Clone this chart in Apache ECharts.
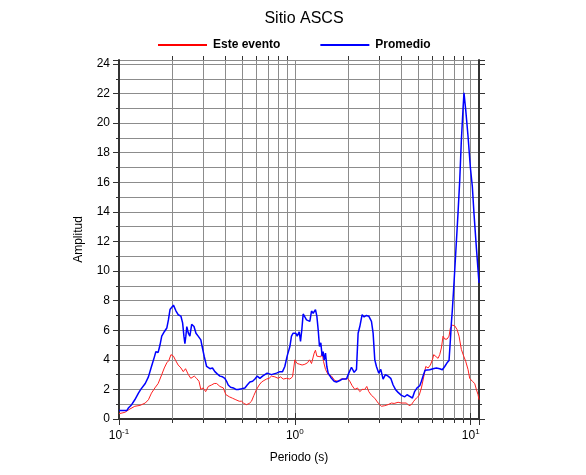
<!DOCTYPE html>
<html>
<head>
<meta charset="utf-8">
<script src="https://cdn.jsdelivr.net/npm/echarts@6/dist/echarts.min.js"></script>
<style>html,body{margin:0;padding:0;background:#fff}#c{width:586px;height:475px}</style>
</head>
<body>
<div id="c"></div>
<script>
// Periodo (s) and amplitude for "Este evento" (red)
var redPeriod = [0.100,0.108,0.1155,0.123,0.1316,0.141,0.147,0.153,0.160,0.167,0.175,0.181,0.187,0.192,0.1975,0.204,0.210,0.217,0.225,0.232,0.239,0.248,0.256,0.268,0.276,0.285,0.292,0.301,0.311,0.322,0.336,0.348,
  0.359,0.375,0.392,0.405,0.424,0.443,0.462,0.483,0.498,0.513,0.531,0.550,0.567,0.585,0.606,0.627,0.647,0.667,0.690,0.714,0.736,0.770,0.804,0.829,0.859,0.897,0.937,0.970,1.000,1.031,1.067,1.100,
  1.140,1.180,1.212,1.244,1.288,1.310,1.334,1.369,1.405,1.430,1.455,1.494,1.547,1.616,1.688,1.763,1.826,1.907,1.992,2.054,2.118,2.193,2.271,2.341,2.413,2.499,2.565,2.633,2.727,2.849,2.976,3.108,3.246,3.390,3.542,3.669,3.865,4.037,4.126,
  4.311,4.463,4.601,4.743,4.913,5.087,5.245,5.408,5.551,5.724,5.900,6.057,6.163,6.326,6.522,6.667,6.813,6.963,7.117,7.337,7.532,7.665,7.868,8.114,8.365,8.586,8.851,9.126,9.367,9.657,9.870,10.22,10.54,10.77,11.01,11.15];
var redAmp = [0.36,0.45,0.68,0.86,0.92,1.08,1.30,1.75,2.10,2.40,3.00,3.45,3.80,3.95,4.35,4.25,3.95,3.65,3.45,3.20,3.40,3.00,2.75,2.90,2.75,2.55,2.00,2.10,1.85,2.20,2.30,2.40,
  2.40,2.20,2.10,1.65,1.50,1.40,1.30,1.20,1.20,1.05,0.97,1.05,1.20,1.60,2.00,2.30,2.50,2.60,2.70,2.75,2.90,2.85,2.75,2.85,2.70,2.75,2.70,2.85,4.00,3.75,3.70,3.65,
  3.70,3.80,4.00,3.75,4.45,4.65,4.25,4.35,4.20,4.50,3.90,3.35,3.00,2.90,2.60,2.55,2.70,2.70,2.75,2.55,2.25,2.00,2.10,1.85,2.00,2.00,2.20,1.85,1.60,1.40,1.08,0.86,0.90,0.97,1.08,1.05,1.13,1.08,1.05,
  1.08,0.90,0.97,1.20,1.42,1.58,2.10,2.85,3.55,3.45,3.65,4.00,4.35,4.25,4.10,4.35,4.80,5.60,5.40,5.40,5.60,6.15,6.35,6.30,6.05,5.60,4.70,4.25,3.90,3.35,2.75,2.55,2.40,2.00,1.65,1.30];

// Periodo (s) and amplitude for "Promedio" (blue)
var bluePeriod = [0.100,0.111,0.113,0.118,0.123,0.129,0.133,0.141,0.147,0.153,0.159,0.162,0.167,0.171,0.175,0.181,0.187,0.191,0.195,0.199,0.204,0.208,0.211,0.217,0.225,0.230,0.234,0.237,0.240,0.243,0.248,0.253,0.259,0.267,0.274,0.282,0.292,0.297,0.305,0.315,
  0.329,0.340,0.351,0.362,0.375,0.388,0.400,0.409,0.418,0.431,0.447,0.462,0.476,0.487,0.498,0.509,0.520,0.536,0.555,0.575,0.593,0.611,0.633,0.655,0.675,0.696,0.714,0.736,0.760,0.787,0.822,0.851,0.877,0.904,0.937,0.957,0.978,1.013,1.031,1.059,1.077,1.096,1.115,
  1.140,1.165,1.191,1.217,1.244,1.271,1.310,1.334,1.357,1.381,1.405,1.430,1.449,1.468,1.494,1.520,1.547,1.581,1.616,1.673,1.725,1.802,1.858,1.907,1.966,2.027,2.099,2.174,2.241,2.290,2.341,2.413,2.477,2.554,2.633,2.727,2.787,2.849,2.911,3.002,3.081,3.176,3.274,3.390,3.511,3.621,3.733,3.865,4.037,4.217,
  4.348,4.502,4.662,4.806,4.956,5.132,5.245,5.361,5.502,5.600,5.848,6.109,6.381,6.667,6.902,7.117,7.337,7.532,7.665,7.767,7.868,8.01,8.22,8.47,8.66,8.85,9.04,9.16,9.37,9.66,9.96,10.22,10.44,10.77,11.15];
var blueAmp = [0.58,0.58,0.74,0.97,1.30,1.75,2.00,2.40,2.85,3.55,4.20,4.55,4.50,5.00,5.60,5.90,6.15,6.70,7.40,7.45,7.70,7.80,7.30,7.05,6.95,6.50,5.60,5.10,5.60,6.25,5.80,5.60,6.40,6.25,5.80,5.60,5.35,4.90,4.25,3.55,
  3.40,3.45,3.20,3.05,2.90,2.85,2.75,2.55,2.30,2.15,2.10,2.00,2.00,1.95,2.05,2.00,2.10,2.30,2.50,2.55,2.70,2.90,2.75,2.90,3.00,3.10,3.20,3.00,3.05,3.10,3.20,3.20,3.55,4.25,4.90,5.60,5.80,5.80,5.60,5.90,5.25,6.05,7.10,
  7.05,6.70,6.80,6.60,7.30,7.15,7.40,6.95,6.05,4.90,5.15,4.25,4.55,4.00,4.45,3.55,3.10,3.00,2.75,2.55,2.50,2.60,2.70,2.75,2.70,3.10,3.50,3.15,3.35,5.80,6.25,7.05,6.90,7.00,6.95,6.60,5.80,4.00,3.55,3.10,3.35,2.70,3.00,2.90,2.75,2.30,2.00,1.80,1.60,1.50,
  1.64,1.53,1.42,1.87,2.10,2.25,2.55,2.90,3.30,3.33,3.33,3.40,3.45,3.40,3.33,3.55,3.80,3.95,5.35,6.50,7.40,8.90,11.2,13.9,16.1,18.85,20.9,22.05,20.9,19.1,17.0,15.7,13.9,11.6,9.2];

// Axis ticks
var xDecades = [0.1, 1, 10];
var xMinorTicks = [0.2,0.3,0.4,0.5,0.6,0.7,0.8,0.9,2,3,4,5,6,7,8,9];
var xSuper = {'0.1': '-1', '1': '0', '10': '1'};

function pairs(xs, ys) { return xs.map(function (x, i) { return [x, ys[i]]; }); }

var FONT = '"Liberation Sans", Arial, sans-serif';
var GRID = '#8c8c8c';
var FRAME = '#333';

var chart = echarts.init(document.getElementById('c'), null, { renderer: 'canvas' });

function xLabel(v) {
  var k = String(+v.toPrecision(6));
  if (xSuper[k] === undefined) return '';
  return '{b|10}{s|' + xSuper[k] + '}';
}

var yCommon = {
  type: 'value', min: 0, max: 24.27, interval: 2,
  axisLine: { show: true, lineStyle: { color: FRAME, width: 2 } },
  axisTick: { show: true, inside: false, length: 6, lineStyle: { color: FRAME } },
  minorTick: { show: true, splitNumber: 2, length: 3, lineStyle: { color: FRAME } }
};

var option = {
  animation: false,
  backgroundColor: '#fff',
  title: {
    text: 'Sitio ASCS', left: 299, top: 6, textAlign: 'center',
    textStyle: { fontFamily: FONT, fontSize: 16, fontWeight: 'normal', color: '#000' }
  },
  legend: {
    left: 158, top: 39, padding: 0, itemWidth: 49, itemHeight: 2, itemGap: 40, icon: 'rect',
    textStyle: { fontFamily: FONT, fontSize: 12, fontWeight: 'bold', color: '#000', padding: [0, 0, 0, 1] },
    data: ['Este evento', 'Promedio']
  },
  grid: { left: 119, right: 107, top: 60, bottom: 56, containLabel: false },
  xAxis: [{
    type: 'log', logBase: 10, min: 0.1, max: 11.15, position: 'bottom',
    name: 'Periodo (s)', nameLocation: 'middle', nameGap: 33,
    nameTextStyle: { fontFamily: FONT, fontSize: 12, color: '#000' },
    axisLine: { show: true, lineStyle: { color: FRAME, width: 2 } },
    axisTick: { show: true, inside: false, length: 6, lineStyle: { color: FRAME } },
    splitLine: { show: true, lineStyle: { color: GRID, width: 1 } },
    axisLabel: {
      formatter: xLabel, margin: 9, color: '#000',
      rich: {
        b: { fontFamily: FONT, fontSize: 12, color: '#000' },
        s: { fontFamily: FONT, fontSize: 8, color: '#000', padding: [0, 0, 8, 0] }
      }
    }
  }, {
    type: 'log', logBase: 10, min: 0.1, max: 11.15, position: 'top',
    axisLine: { show: true, lineStyle: { color: FRAME, width: 2 } },
    axisTick: { show: true, inside: false, length: 6, lineStyle: { color: FRAME } },
    splitLine: { show: false },
    axisLabel: { show: false }
  }],
  yAxis: [
    Object.assign({}, yCommon, {
      position: 'left',
      name: 'Amplitud', nameLocation: 'middle', nameGap: 34,
      nameTextStyle: { fontFamily: FONT, fontSize: 12, color: '#000' },
      splitLine: { show: true, lineStyle: { color: GRID, width: 1 } },
      minorSplitLine: { show: true, lineStyle: { color: GRID, width: 1 } },
      axisLabel: {
        margin: 9, fontFamily: FONT, fontSize: 12, color: '#000',
        formatter: function (v) { return (Math.abs(v - Math.round(v)) < 1e-6 && Math.round(v) % 2 === 0) ? String(Math.round(v)) : ''; }
      }
    }),
    Object.assign({}, yCommon, {
      position: 'right',
      splitLine: { show: false },
      minorSplitLine: { show: false },
      axisLabel: { show: false }
    })
  ],
  series: [
    {
      type: 'custom', name: 'minorgrid', silent: true, clip: false, z: 1,
      xAxisIndex: 0, yAxisIndex: 0,
      data: xMinorTicks.map(function (v) { return [v, 0]; }),
      renderItem: function (params, api) {
        var cs = params.coordSys;
        var x = Math.round(api.coord([api.value(0), 0])[0]) + 0.5;
        return {
          type: 'group',
          children: [
            { type: 'line', shape: { x1: x, y1: cs.y, x2: x, y2: cs.y + cs.height }, style: { stroke: GRID, lineWidth: 1 } },
            { type: 'line', shape: { x1: x, y1: cs.y - 4, x2: x, y2: cs.y }, style: { stroke: FRAME, lineWidth: 1 } },
            { type: 'line', shape: { x1: x, y1: cs.y + cs.height, x2: x, y2: cs.y + cs.height + 4 }, style: { stroke: FRAME, lineWidth: 1 } }
          ]
        };
      }
    },
    {
      name: 'Este evento', type: 'line', xAxisIndex: 0, yAxisIndex: 0, z: 3,
      showSymbol: false, symbol: 'none', smooth: false,
      lineStyle: { color: '#ff2020', width: 1 }, itemStyle: { color: '#ff0000' },
      data: pairs(redPeriod, redAmp)
    },
    {
      name: 'Promedio', type: 'line', xAxisIndex: 0, yAxisIndex: 0, z: 4,
      showSymbol: false, symbol: 'none', smooth: false,
      lineStyle: { color: '#0000ff', width: 1.5 }, itemStyle: { color: '#0000ff' },
      data: pairs(bluePeriod, blueAmp)
    }
  ]
};
chart.setOption(option);
</script>
</body>
</html>
